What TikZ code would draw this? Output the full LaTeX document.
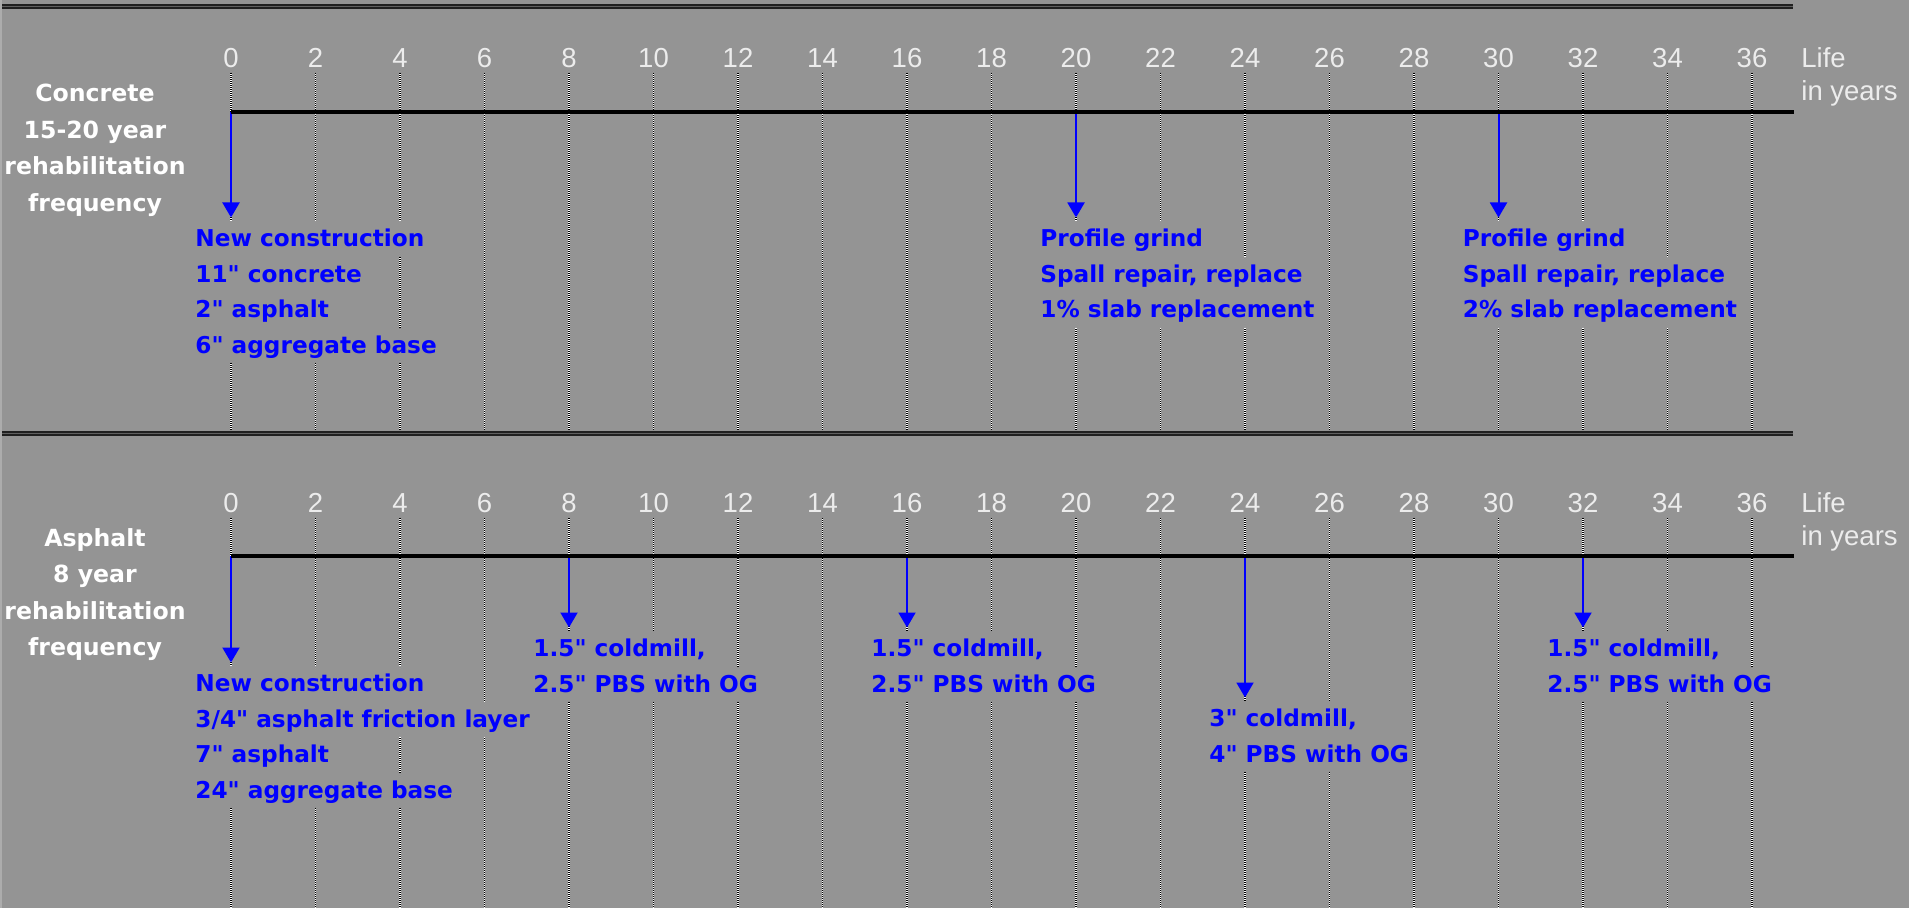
\documentclass[tikz,border=0pt]{standalone}
\usepackage{fontspec}
\newfontfamily\lblfont{DejaVu Sans}
\newfontfamily\tickfont{Liberation Sans}
\usetikzlibrary{arrows.meta}
\definecolor{PanelGray}{RGB}{148,148,148}
\definecolor{EdgeGray}{RGB}{172,172,172}
\definecolor{GrooveDark}{RGB}{32,32,32}
\definecolor{GrooveMid}{RGB}{96,96,96}
\definecolor{TickWhite}{RGB}{236,236,236}
\definecolor{EventBlue}{RGB}{0,0,255}
\tikzset{
  yearlabel/.style={font=\tickfont\fontsize{13.75pt}{16pt}\selectfont,text=TickWhite,anchor=base,inner sep=0pt},
  lifelabel/.style={font=\tickfont\fontsize{13.75pt}{16pt}\selectfont,text=TickWhite,anchor=base west,inner sep=0pt},
  pavelabel/.style={font=\lblfont\bfseries\fontsize{11.8pt}{14pt}\selectfont,text=white,anchor=base,inner sep=0pt},
  worklabel/.style={font=\lblfont\bfseries\fontsize{11.6pt}{14pt}\selectfont,text=EventBlue,fill=PanelGray,anchor=base west,inner xsep=1pt,inner ysep=0pt,text height=12.8pt,text depth=5pt},
  gridline/.style={draw=white,line width=0.6pt},
  griddots/.style={draw=black,line width=0.6pt,dash pattern=on 0.5pt off 0.5pt},
  lifeline/.style={draw=black,line width=2.25pt},
  workarrow/.style={-{Triangle[width=8.5pt,length=7.5pt]},draw=EventBlue,fill=EventBlue,line width=1pt},
  groove/.style={draw=GrooveMid,line width=2.5pt},
  grooveedge/.style={draw=GrooveDark,line width=0.85pt}
}

\begin{document}
\begin{tikzpicture}[x=0.5pt,y=-0.5pt]
\fill[PanelGray] (0,0) rectangle (1909,908);
\useasboundingbox (0,0) rectangle (1909,908);
\draw[EdgeGray,line width=0.85pt] (0.85,0) -- (0.85,908);

% separators
\foreach \sy in {6.5,433.5}{
  \draw[groove] (2,\sy) -- (1793,\sy);
  \draw[grooveedge] (2,\sy-1.7) -- (1793,\sy-1.7);
  \draw[grooveedge] (2,\sy+1.7) -- (1793,\sy+1.7);
}

% year grid, both panels
\foreach \yr in {0,2,...,36}{
  \pgfmathsetmacro\tx{231+42.25*\yr}
  \draw[gridline] (\tx,73) -- (\tx,430);
  \draw[griddots] (\tx,73) -- (\tx,430);
  \draw[gridline] (\tx,518) -- (\tx,908);
  \draw[griddots] (\tx,518) -- (\tx,908);
  \node[yearlabel] (cy\yr) at (\tx,68) {\yr};
  \node[yearlabel] (ay\yr) at (\tx,512.5) {\yr};
}
\node[lifelabel] (clife) at (1801,68) {Life};
\node[lifelabel] (cyears) at (1801,101) {in years};
\node[lifelabel] (alife) at (1801,512) {Life};
\node[lifelabel] (ayears) at (1801,545) {in years};

% concrete
\coordinate (cs) at (231,112);
\coordinate (ce) at (1794,112);
\foreach \yr/\tip [count=\i] in {0/217.5,20/217.5,30/217.5}{
  \pgfmathsetmacro\tx{231+42.25*\yr}
  \coordinate (cw\i) at (\tx,112);
  \coordinate (cwtip\i) at (\tx,\tip);
  \draw[workarrow] (cw\i) -- (cwtip\i);
}
\draw[lifeline] (cs) -- (ce);

\foreach \t [count=\i] in {Concrete,15-20 year,rehabilitation,frequency}
  \node[pavelabel] (cp\i) at (95,65.6+36.4*\i) {\t};

\foreach \t [count=\i] in {New construction,{11" concrete},{2" asphalt},{6" aggregate base}}
  \node[worklabel] (cn\i) at (193,211.2+35.5*\i) {\t};
\foreach \t [count=\i] in {Profile grind,{Spall repair, replace},{1\% slab replacement}}
  \node[worklabel] (cg\i) at (1038,211.2+35.5*\i) {\t};
\foreach \t [count=\i] in {Profile grind,{Spall repair, replace},{2\% slab replacement}}
  \node[worklabel] (cr\i) at (1460.5,211.2+35.5*\i) {\t};

% asphalt
\coordinate (as) at (231,556);
\coordinate (ae) at (1794,556);
\foreach \yr/\tip [count=\i] in {0/662.5,8/627.5,16/627.5,24/697.5,32/627.5}{
  \pgfmathsetmacro\tx{231+42.25*\yr}
  \coordinate (aw\i) at (\tx,556);
  \coordinate (awtip\i) at (\tx,\tip);
  \draw[workarrow] (aw\i) -- (awtip\i);
}
\draw[lifeline] (as) -- (ae);

\foreach \t [count=\i] in {Asphalt,8 year,rehabilitation,frequency}
  \node[pavelabel] (ap\i) at (95,510.1+36.4*\i) {\t};

\foreach \t [count=\i] in {New construction,{3/4" asphalt friction layer},{7" asphalt},{24" aggregate base}}
  \node[worklabel] (an\i) at (193,656.2+35.5*\i) {\t};
\foreach \t [count=\i] in {{1.5" coldmill,},{2.5" PBS with OG}}
  \node[worklabel] (am\i) at (531,621.2+35.5*\i) {\t};
\foreach \t [count=\i] in {{1.5" coldmill,},{2.5" PBS with OG}}
  \node[worklabel] (aq\i) at (869,621.2+35.5*\i) {\t};
\foreach \t [count=\i] in {{3" coldmill,},{4" PBS with OG}}
  \node[worklabel] (ad\i) at (1207,691.2+35.5*\i) {\t};
\foreach \t [count=\i] in {{1.5" coldmill,},{2.5" PBS with OG}}
  \node[worklabel] (az\i) at (1545,621.2+35.5*\i) {\t};
\end{tikzpicture}
\end{document}
